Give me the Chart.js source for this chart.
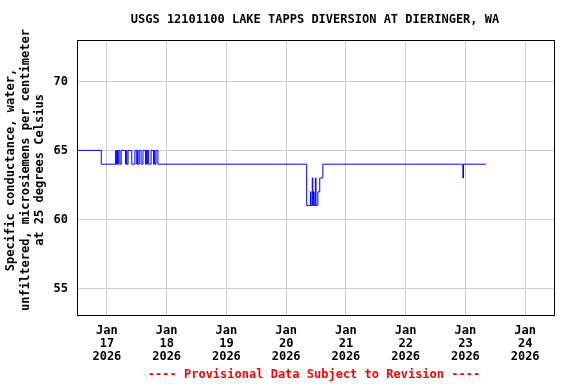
<!DOCTYPE html>
<html>
<head>
<meta charset="utf-8">
<script src="https://cdn.jsdelivr.net/npm/chart.js@4/dist/chart.umd.min.js"></script>
<style>
  html, body { margin: 0; padding: 0; background: #fff; }
  canvas { display: block; }
</style>
</head>
<body>
<canvas id="c" width="576" height="384"></canvas>
<script>
// Stunden seit 16. Jan 2026 12:00, Wert gilt ab diesem Zeitpunkt
var hours = [0, 9.75, 15.5, 15.75, 16.0, 16.25, 16.75, 17.25, 17.75, 19.5, 19.75, 20.0, 20.5, 22.0,
  23.25, 24.0, 24.25, 24.5, 25.0, 25.75, 26.5, 27.5, 27.75, 28.0, 28.25, 28.75, 29.75, 30.75,
  31.0, 31.25, 31.75, 32.5, 92.25, 93.75, 94.0, 94.5, 94.75, 95.0, 95.25, 95.75, 96.0, 96.75,
  97.5, 98.75, 155.0, 155.25, 164.25];
var conductance = [65, 64, 65, 64, 65, 64, 65, 64, 65, 64, 65, 64, 65, 64,
  65, 64, 65, 64, 65, 64, 65, 64, 65, 64, 65, 64, 65, 64,
  65, 64, 65, 64, 61, 62, 61, 63, 61, 62, 61, 63, 61, 62,
  63, 64, 63, 64, 64];
var tickHours = [12, 36, 60, 84, 108, 132, 156, 180];
var tickDays = ['17', '18', '19', '20', '21', '22', '23', '24'];
var yTicks = [55, 60, 65, 70];
var yTitle = ['Specific conductance, water,', 'unfiltered, microsiemens per centimeter', 'at 25 degrees Celsius'];

var FONT = '"DejaVu Sans Mono", monospace';

var points = hours.map(function (h, i) { return { x: h, y: conductance[i] }; });

var textPlugin = {
  id: 'texts',
  afterDraw: function (chart) {
    var ctx = chart.ctx;
    var a = chart.chartArea;
    ctx.save();
    ctx.strokeStyle = '#000';
    ctx.lineWidth = 1;
    ctx.strokeRect(a.left + 0.5, a.top + 0.5, a.right - a.left - 1, a.bottom - a.top - 1);
    ctx.textAlign = 'center';
    ctx.textBaseline = 'middle';
    ctx.font = 'bold 12px ' + FONT;
    ctx.fillStyle = '#000';
    ctx.fillText('USGS 12101100 LAKE TAPPS DIVERSION AT DIERINGER, WA', 315, 20);
    // Achsentitel, gedreht
    ctx.save();
    ctx.translate(0, 170);
    ctx.rotate(-Math.PI / 2);
    yTitle.forEach(function (t, i) { ctx.fillText(t, 0, 11 + i * 14.5); });
    ctx.restore();
    ctx.fillStyle = '#ff0000';
    ctx.fillText('---- Provisional Data Subject to Revision ----', 314, 375);
    ctx.restore();
  }
};

new Chart(document.getElementById('c').getContext('2d'), {
  type: 'line',
  data: {
    datasets: [{
      data: points,
      borderColor: '#0000ff',
      borderWidth: 1,
      pointRadius: 0,
      stepped: 'before',
      fill: false
    }]
  },
  options: {
    responsive: false,
    animation: false,
    layout: { padding: { top: 40, right: 21, left: 0, bottom: 0 } },
    plugins: { legend: { display: false }, tooltip: { enabled: false } },
    scales: {
      x: {
        type: 'linear',
        min: 0,
        max: 192,
        afterFit: function (s) { s.height = 68; },
        afterBuildTicks: function (s) { s.ticks = tickHours.map(function (v) { return { value: v }; }); },
        ticks: {
          autoSkip: false,
          maxRotation: 0,
          padding: 8,
          color: '#000',
          font: { family: FONT, size: 12, weight: 'bold', lineHeight: 1.08 },
          callback: function (v) {
            var i = tickHours.indexOf(v);
            return ['Jan', tickDays[i], '2026'];
          }
        },
        grid: { color: '#cccccc', drawTicks: false },
        border: { display: false }
      },
      y: {
        min: 53,
        max: 73,
        afterFit: function (s) { s.width = 77; },
        afterBuildTicks: function (s) { s.ticks = yTicks.map(function (v) { return { value: v }; }); },
        ticks: {
          padding: 9,
          color: '#000',
          font: { family: FONT, size: 12, weight: 'bold' }
        },
        grid: { color: '#cccccc', drawTicks: false },
        border: { display: false }
      }
    }
  },
  plugins: [textPlugin]
});
</script>
</body>
</html>
